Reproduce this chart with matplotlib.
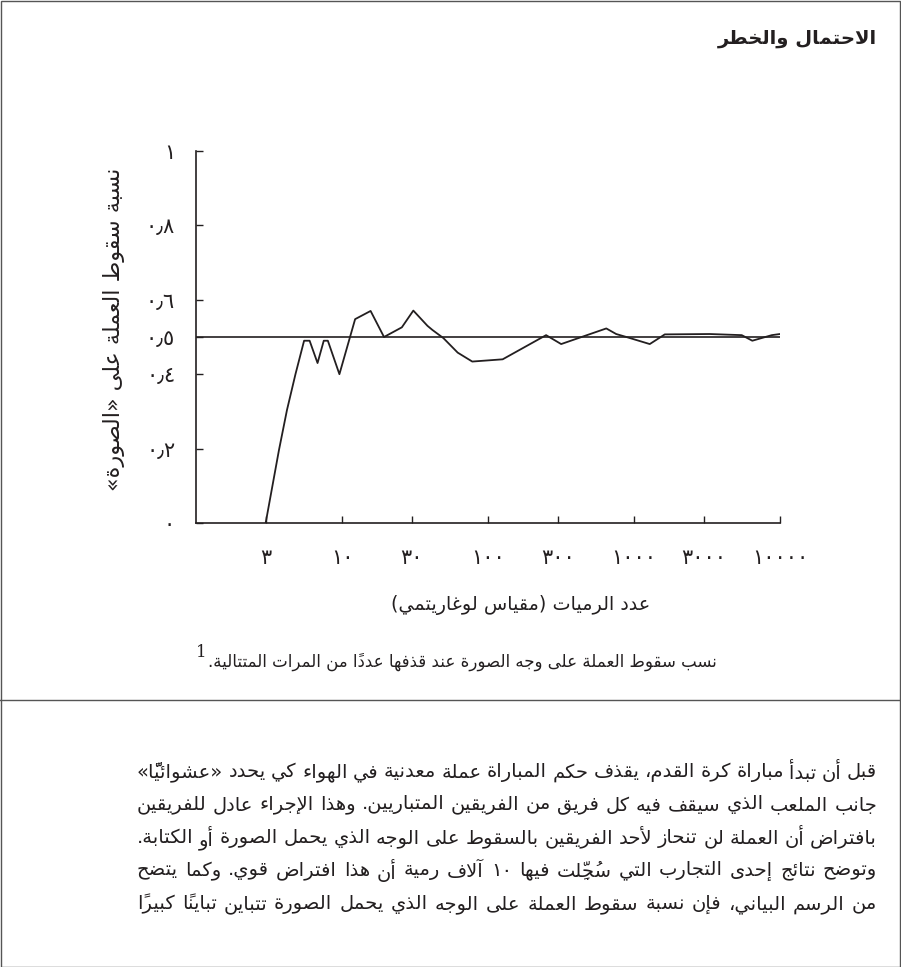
import matplotlib
matplotlib.use("Agg")
import matplotlib.pyplot as plt
from matplotlib.patches import Rectangle

# ---- data ----
tosses = [3, 3.7, 4.2, 4.8, 5.5, 6, 6.8, 7.5, 8, 9.6, 12.3, 15.7, 19.4, 25.7,
          30.8, 38.5, 41.6, 49.5, 62, 78, 126, 250, 317, 646, 755, 887, 1282,
          1625, 3300, 5470, 6460, 8790, 10000]
heads_share = [0, 0.196, 0.304, 0.40, 0.49, 0.49, 0.43, 0.49, 0.49, 0.40,
               0.548, 0.57, 0.50, 0.526, 0.571, 0.53, 0.519, 0.497, 0.458,
               0.434, 0.44, 0.505, 0.481, 0.523, 0.508, 0.50, 0.481, 0.507,
               0.508, 0.505, 0.49, 0.505, 0.508]
x_ticks = [3, 10, 30, 100, 300, 1000, 3000, 10000]
y_ticks = [0, 0.2, 0.4, 0.5, 0.6, 0.8, 1]
fair_share = 0.5

title = "الاحتمال والخطر"
y_label = "نسبة سقوط العملة على «الصورة»"
x_label = "عدد الرميات (مقياس لوغاريتمي)"
caption = "نسب سقوط العملة على وجه الصورة عند قذفها عددًا من المرات المتتالية."
body_lines = [
    "قبل أن تبدأ مباراة كرة القدم، يقذف حكم المباراة عملة معدنية في الهواء كي يحدد «عشوائيًّا»",
    "جانب الملعب الذي سيقف فيه كل فريق من الفريقين المتباريين. وهذا الإجراء عادل للفريقين",
    "بافتراض أن العملة لن تنحاز لأحد الفريقين بالسقوط على الوجه الذي يحمل الصورة أو الكتابة.",
    "وتوضح نتائج إحدى التجارب التي سُجِّلت فيها ١٠ آلاف رمية أن هذا افتراض قوي. وكما يتضح",
    "من الرسم البياني، فإن نسبة سقوط العملة على الوجه الذي يحمل الصورة تتباين تباينًا كبيرًا",
]

# ---- minimal arabic shaping (matplotlib has no bidi / joining) ----
AR = {'ء': (0xFE80, 0), 'آ': (0xFE81, 1), 'أ': (0xFE83, 1), 'ؤ': (0xFE85, 1),
      'إ': (0xFE87, 1), 'ئ': (0xFE89, 2), 'ا': (0xFE8D, 1), 'ب': (0xFE8F, 2),
      'ة': (0xFE93, 1), 'ت': (0xFE95, 2), 'ث': (0xFE99, 2), 'ج': (0xFE9D, 2),
      'ح': (0xFEA1, 2), 'خ': (0xFEA5, 2), 'د': (0xFEA9, 1), 'ذ': (0xFEAB, 1),
      'ر': (0xFEAD, 1), 'ز': (0xFEAF, 1), 'س': (0xFEB1, 2), 'ش': (0xFEB5, 2),
      'ص': (0xFEB9, 2), 'ض': (0xFEBD, 2), 'ط': (0xFEC1, 2), 'ظ': (0xFEC5, 2),
      'ع': (0xFEC9, 2), 'غ': (0xFECD, 2), 'ف': (0xFED1, 2), 'ق': (0xFED5, 2),
      'ك': (0xFED9, 2), 'ل': (0xFEDD, 2), 'م': (0xFEE1, 2), 'ن': (0xFEE5, 2),
      'ه': (0xFEE9, 2), 'و': (0xFEED, 1), 'ى': (0xFEEF, 1), 'ي': (0xFEF1, 2)}
LAM_ALEF = {'آ': 0xFEF5, 'أ': 0xFEF7, 'إ': 0xFEF9, 'ا': 0xFEFB}
MARKS = set('\u064b\u064c\u064d\u064e\u064f\u0650\u0651\u0652\u0670')
MIRROR = {'(': ')', ')': '(', '«': '»', '»': '«'}
DIGITS = set('0123456789٠١٢٣٤٥٦٧٨٩٫')


def shape(s):
    cl = []
    for ch in s:
        if ch in MARKS and cl:
            cl[-1][1] += ch
        else:
            cl.append([ch, ''])
    n = len(cl)

    def jt(k):
        if 0 <= k < n and cl[k][0] in AR:
            return AR[cl[k][0]][1]
        return 0

    out = []
    i = 0
    while i < n:
        ch, mk = cl[i]
        if ch not in AR:
            out.append(mk + MIRROR.get(ch, ch))
            i += 1
            continue
        prev_j = jt(i - 1) == 2
        if ch == 'ل' and i + 1 < n and cl[i + 1][0] in LAM_ALEF:
            out.append(mk + cl[i + 1][1] + chr(LAM_ALEF[cl[i + 1][0]] + prev_j))
            i += 2
            continue
        base, t = AR[ch]
        next_j = t == 2 and jt(i + 1) > 0
        if t == 0:
            g = base
        elif prev_j and next_j:
            g = base + 3
        elif next_j:
            g = base + 2
        elif prev_j:
            g = base + 1
        else:
            g = base
        # marks go before the base in visual order so they land on it
        out.append(mk + chr(g))
        i += 1
    # visual order: reverse, but keep digit runs left-to-right
    tokens = []
    for c in out:
        if c[0] in DIGITS and tokens and tokens[-1][0][0] in DIGITS:
            tokens[-1].append(c)
        else:
            tokens.append([c])
    return ''.join(''.join(t) for t in reversed(tokens))


def ar_num(v):
    s = ('%g' % v).replace('.', '٫')
    return ''.join('٠١٢٣٤٥٦٧٨٩'[int(c)] if c.isdigit() else c for c in s)


plt.rcParams['font.family'] = ['DejaVu Sans']
W, H = 901, 967
ink = '#231f20'

fig = plt.figure(figsize=(W / 100, H / 100), dpi=100)
ax = fig.add_axes([196 / W, 1 - 523 / H, (780 - 196) / W, (523 - 151) / H])

ax.plot(tosses, heads_share, color=ink, lw=1.3)
ax.axhline(fair_share, color=ink, lw=1.2)
ax.set_xscale('log')
ax.set_xlim(1, 10000)
ax.set_ylim(0, 1)
ax.minorticks_off()
ax.set_xticks(x_ticks)
ax.set_xticklabels([ar_num(v) for v in x_ticks])
ax.set_yticks(y_ticks)
ax.set_yticklabels([ar_num(v) for v in y_ticks])
ax.tick_params(axis='both', direction='in', length=5, width=1, color=ink,
               labelcolor=ink, labelsize=15)
ax.tick_params(axis='x', pad=18)
ax.tick_params(axis='y', pad=15)
for side in ['top', 'right']:
    ax.spines[side].set_visible(False)
for side in ['left', 'bottom']:
    ax.spines[side].set_color(ink)
    ax.spines[side].set_linewidth(1.2)

ax.set_ylabel(shape(y_label), fontsize=16, color=ink)
ax.yaxis.set_label_coords(-0.122, 0.52)

fig.text(877 / W, 1 - 38 / H, shape(title), fontsize=14, fontweight='bold',
         ha='right', va='center', color=ink)
fig.text(521 / W, 1 - 605 / H, shape(x_label), fontsize=13.8, ha='center',
         va='center', color=ink)
cap = fig.text(462 / W, 1 - 662 / H, shape(caption), fontsize=12, ha='center',
               va='center', color=ink)
ax.annotate('1', xy=(0, 1), xycoords=cap, xytext=(-1, 0), textcoords='offset points',
            ha='right', va='center', fontsize=12, color=ink,
            family='DejaVu Serif')

# frame and separator
fig.patches.append(Rectangle((0.5 / W, 0.5 / H), (W - 1.5) / W, (H - 1.5) / H,
                             transform=fig.transFigure, fill=False,
                             edgecolor='#555555', lw=1))
fig.add_artist(plt.Line2D([0, 1], [1 - 700 / H, 1 - 700 / H],
                          transform=fig.transFigure, color='#555555', lw=1))

# justified body text
fig.canvas.draw()
r = fig.canvas.get_renderer()
right_px, left_px = 877, 137
for k, line in enumerate(body_lines):
    y = 1 - (772 + k * 33) / H
    words = line.split(' ')
    arts = [fig.text(0, y, shape(w), fontsize=14, ha='right', va='center',
                     color=ink) for w in words]
    widths = [a.get_window_extent(r).width for a in arts]
    gap = (right_px - left_px - sum(widths)) / (len(words) - 1)
    x = right_px
    for a, w in zip(arts, widths):
        a.set_position((x / W, y))
        x -= w + gap

fig.savefig('out.png', dpi=100)
